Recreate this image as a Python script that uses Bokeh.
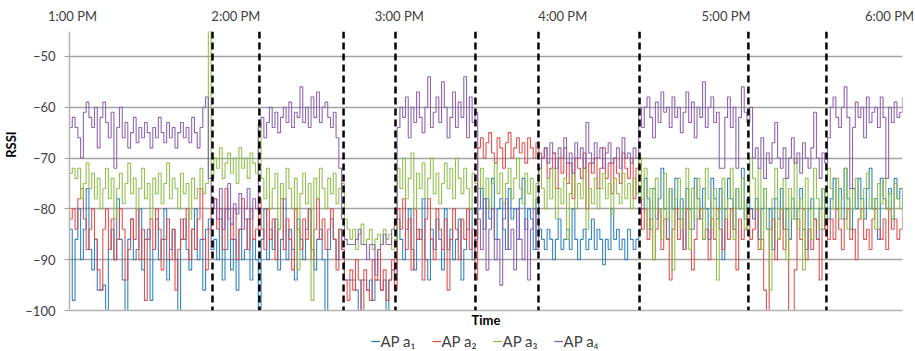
import numpy as np
from bokeh.plotting import figure
from bokeh.layouts import column
from bokeh.models import (FixedTicker, Span, Legend, LegendItem, Range1d, LinearAxis)
from bokeh.embed import file_html
from bokeh.resources import INLINE

# ---------------- data ----------------
# RSSI samples, one per minute starting at 1:00 PM
ap_a1 = [
    # A
    -84, -98, -86, -80, -90, -84, -76, -88, -92, -86,
    -96, -96, -95, -100, -88, -84, -90, -78, -86, -94,
    -100, -86, -82, -90, -88, -80, -92, -86, -84, -98,
    -88, -82, -90, -86, -80, -94, -88, -84, -90, -100,
    -86, -82, -88, -92, -84, -80, -90, -86, -96, -84,
    -82, -88,
    # B
    -86, -90, -82, -94, -88, -80, -92, -86, -96, -84, -90, -88, -82, -94, -86, -90, -100,
    # C
    -86, -80, -90, -84, -88, -82, -92, -86, -78, -90,
    -84, -88, -94, -82, -86, -90, -84, -80, -88, -92,
    -86, -84, -90, -100, -88, -82, -86, -90, -84, -88,
    # D
    -94, -94, -94, -94, -96, -100, -94, -94, -96, -94, -98, -94, -94, -96, -94, -100, -94, -92, -94,
    # E
    -82, -86, -90, -84, -80, -88, -92, -84, -86, -78,
    -90, -94, -84, -88, -82, -86, -92, -80, -88, -84,
    -90, -86, -82, -94, -88, -84, -80, -90, -86,
    # F
    -80, -76, -84, -78, -82, -74, -86, -80, -78, -84,
    -88, -76, -82, -80, -86, -78, -74, -84, -80, -82,
    -88, -78, -84,
    # G
    -86, -88, -84, -86, -90, -86, -82, -88, -86, -84,
    -88, -80, -86, -90, -86, -84, -88, -86, -82, -88,
    -84, -86, -91, -86, -88, -80, -86, -84, -88, -86,
    -90, -84, -86, -88, -86, -84,
    # H
    -80, -74, -78, -84, -76, -82, -78, -72, -80, -86,
    -76, -80, -74, -82, -78, -88, -76, -80, -84, -74,
    -78, -82, -76, -80, -86, -74, -78, -82, -76, -90,
    -80, -74, -78, -84, -76, -80, -72, -82, -78, -80,
    # I
    -82, -78, -86, -80, -76, -84, -80, -88, -78, -82,
    -76, -84, -80, -86, -78, -82, -80, -76, -84, -88,
    -80, -78, -82, -86, -80, -76, -84, -82,
    # J
    -78, -74, -80, -76, -82, -72, -78, -84, -76, -80,
    -74, -78, -82, -76, -72, -80, -78, -86, -74, -78,
    -80, -76, -82, -74, -78, -76, -80,
]

ap_a2 = [
    # A
    -82, -80, -84, -78, -76, -82, -88, -84, -80, -86,
    -92, -96, -84, -80, -88, -82, -90, -86, -80, -84,
    -94, -88, -82, -86, -80, -90, -84, -98, -86, -82,
    -88, -80, -84, -92, -86, -82, -90, -84, -96, -88,
    -82, -86, -80, -90, -84, -88, -82, -76, -86, -92,
    -84, -80,
    # B
    -78, -84, -80, -88, -76, -82, -86, -80, -90, -84, -78, -82, -88, -80, -86, -84, -78,
    # C
    -84, -88, -80, -86, -82, -90, -84, -78, -88, -82,
    -86, -92, -80, -84, -88, -82, -86, -80, -90, -84,
    -78, -86, -82, -88, -84, -80, -86, -92, -84, -88,
    # D
    -94, -98, -92, -96, -90, -94, -100, -92, -96, -98, -90, -94, -88, -96, -92, -98, -94, -90, -96,
    # E
    -80, -84, -78, -88, -82, -92, -80, -86, -84, -94,
    -82, -78, -86, -90, -80, -84, -88, -82, -96, -86,
    -80, -84, -90, -82, -86, -80, -88, -84, -94,
    # F
    -68, -66, -70, -67, -65, -69, -71, -66, -68, -72,
    -67, -65, -70, -68, -66, -69, -67, -71, -66, -68,
    -70, -67, -69,
    # G
    -70, -68, -74, -72, -69, -76, -70, -73, -68, -75,
    -71, -78, -70, -72, -74, -69, -80, -71, -73, -70,
    -76, -72, -68, -74, -71, -77, -70, -73, -75, -69,
    -72, -74, -70, -78, -72, -70,
    # H
    -84, -80, -86, -82, -90, -84, -80, -88, -82, -86,
    -94, -84, -80, -86, -82, -88, -80, -84, -92, -86,
    -82, -80, -86, -84, -90, -82, -86, -80, -84, -88,
    -82, -86, -80, -84, -92, -82, -86, -84, -80, -86,
    # I
    -84, -80, -88, -86, -96, -100, -84, -82, -90, -86,
    -80, -88, -84, -100, -100, -92, -82, -86, -80, -90,
    -84, -88, -82, -86, -94, -84, -80, -86,
    # J
    -82, -86, -80, -84, -88, -82, -80, -86, -84, -90,
    -82, -80, -86, -84, -88, -82, -80, -84, -86, -82,
    -88, -80, -84, -82, -86, -84, -80,
]

ap_a3 = [
    # A
    -73, -72, -74, -72, -78, -75, -71, -76, -73, -78,
    -74, -80, -76, -72, -78, -74, -82, -76, -73, -79,
    -75, -71, -77, -74, -80, -76, -72, -78, -75, -82,
    -74, -77, -73, -79, -75, -71, -78, -74, -76, -80,
    -73, -77, -75, -82, -74, -78, -76, -72, -77, -75,
    -45, -74,
    # B
    -70, -72, -68, -74, -71, -69, -73, -70, -75, -68, -72, -70, -74, -69, -71, -73, -63,
    # C
    -74, -78, -72, -80, -76, -73, -84, -75, -78, -72,
    -76, -80, -74, -92, -77, -73, -79, -75, -98, -74,
    -78, -72, -76, -80, -74, -77, -73, -79, -76, -75,
    # D
    -82, -84, -86, -84, -88, -85, -83, -87, -86, -84, -88, -86, -85, -87, -84, -86, -85, -88, -86,
    # E
    -72, -76, -70, -78, -74, -69, -80, -73, -76, -71,
    -78, -74, -70, -77, -73, -79, -75, -71, -76, -72,
    -78, -70, -74, -77, -72, -76, -80, -73, -75,
    # F
    -76, -72, -78, -74, -80, -75, -71, -77, -73, -79,
    -75, -72, -78, -74, -70, -76, -79, -73, -77, -74,
    -80, -75, -72,
    # G
    -76, -80, -74, -78, -72, -82, -76, -79, -74, -86,
    -77, -73, -80, -75, -78, -72, -84, -76, -79, -74,
    -80, -76, -73, -78, -75, -81, -74, -77, -79, -73,
    -78, -75, -80, -74, -77, -70,
    # H
    -78, -72, -84, -76, -90, -74, -80, -86, -73, -82,
    -76, -92, -78, -74, -84, -80, -72, -88, -76, -82,
    -74, -80, -86, -72, -78, -84, -76, -94, -80, -74,
    -82, -78, -72, -86, -76, -80, -74, -84, -78, -70,
    # I
    -74, -80, -72, -88, -76, -84, -96, -78, -72, -86,
    -80, -74, -90, -76, -82, -70, -84, -78, -92, -74,
    -80, -86, -72, -78, -84, -76, -82, -72,
    # J
    -76, -80, -74, -82, -78, -72, -84, -76, -80, -74,
    -78, -82, -76, -73, -80, -78, -84, -75, -79, -74,
    -80, -77, -82, -75, -78, -80, -76,
]

ap_a4 = [
    # A
    -64, -62, -64, -66, -70, -61, -59, -62, -64, -60,
    -68, -62, -59, -63, -66, -61, -72, -64, -60, -66,
    -63, -68, -65, -62, -67, -64, -66, -63, -65, -68,
    -64, -66, -62, -65, -67, -63, -66, -64, -68, -65,
    -63, -66, -64, -67, -62, -65, -68, -64, -60, -58,
    -74, -80,
    # B
    -78, -82, -76, -84, -80, -75, -83, -79, -81, -77, -84, -80, -76, -82, -78, -80, -64,
    # C
    -62, -66, -63, -60, -64, -61, -65, -62, -60, -63,
    -59, -64, -61, -62, -56, -63, -60, -64, -58, -62,
    -57, -63, -60, -59, -62, -64, -61, -66, -72, -82,
    # D
    -86, -87, -87, -87, -86, -84, -87, -87, -90, -87, -87, -93, -88, -87, -85, -87, -87, -84, -82,
    # E
    -64, -60, -62, -58, -66, -60, -63, -57, -62, -65,
    -60, -54, -64, -61, -58, -63, -55, -60, -66, -62,
    -57, -64, -59, -62, -54, -66, -58, -63, -61,
    # F
    -82, -88, -78, -92, -84, -80, -90, -86, -95, -82,
    -78, -88, -84, -92, -80, -86, -90, -82, -94, -84,
    -80, -88, -72,
    # G
    -70, -68, -71, -67, -69, -72, -68, -70, -66, -71,
    -69, -73, -67, -70, -68, -72, -63, -69, -71, -67,
    -70, -68, -72, -69, -67, -71, -70, -68, -72, -66,
    -70, -69, -71, -68, -70, -60,
    # H
    -64, -60, -58, -62, -66, -59, -63, -57, -61, -60,
    -64, -58, -62, -60, -65, -61, -57, -63, -59, -66,
    -60, -62, -55, -64, -60, -58, -63, -61, -72, -72,
    -62, -58, -64, -60, -72, -62, -56, -61, -63, -60,
    # I
    -70, -68, -72, -66, -74, -69, -71, -67, -63, -70,
    -72, -68, -74, -70, -66, -71, -69, -73, -67, -70,
    -72, -68, -61, -70, -74, -69, -71, -66,
    # J
    -60, -58, -62, -64, -60, -56, -62, -76, -64, -59,
    -62, -60, -66, -58, -63, -61, -60, -64, -58, -62,
    -74, -60, -63, -59, -62, -61, -58,
]

series_names = ["AP a\u2081", "AP a\u2082", "AP a\u2083", "AP a\u2084"]
series_colors = ["#2a7dc2", "#e04a4a", "#8dbf48", "#8a5fae"]

# boundaries of the measurement phases (minutes after 1:00 PM)
events_min = [51.5, 68.4, 98.7, 117.4, 146.2, 168.9, 205.3, 244.5, 272.6]

hour_ticks = [0, 60, 120, 180, 240, 300]
hour_labels = ["1:00 PM", "2:00 PM", "3:00 PM", "4:00 PM", "5:00 PM", "6:00 PM"]
rssi_ticks = [-100, -90, -80, -70, -60, -50]

FONT = "Lato"
TXT = "#404040"
FS = "\u2007"  # figure space, nudges the y title upward

# ---------------- main chart ----------------
p = figure(frame_width=833, frame_height=279, output_backend="svg", toolbar_location=None,
           x_range=Range1d(0, 300), y_range=Range1d(-100, -45.1),
           min_border_left=67, min_border_right=15, min_border_top=31,
           min_border_bottom=21)
p.outline_line_color = None
p.background_fill_color = "white"
p.border_fill_color = "white"
# caption axis for the hours (category-style axis, inset at both ends)
p.extra_x_ranges = {"hours": Range1d(-1.10, 304.77)}

p.xgrid.visible = False
p.ygrid.ticker = FixedTicker(ticks=rssi_ticks)
p.ygrid.grid_line_color = "#a3a3a3"
p.ygrid.grid_line_width = 1.3

yax = p.yaxis[0]
yax.ticker = FixedTicker(ticks=rssi_ticks)
yax.axis_line_color = "#b3b3b3"
yax.axis_line_width = 1.5
yax.major_tick_line_color = "#a3a3a3"
yax.major_tick_out = 5
yax.major_tick_in = 0
yax.minor_tick_line_color = None
yax.major_label_standoff = 9
yax.major_label_text_font = FONT
yax.major_label_text_font_size = "13px"
yax.major_label_text_color = TXT
yax.axis_label = FS * 7 + "RSSI"
yax.axis_label_standoff = 3
yax.axis_label_text_font = FONT
yax.axis_label_text_font_size = "13px"
yax.axis_label_text_font_style = "bold"
yax.axis_label_text_color = "#000000"

xax = p.xaxis[0]
xax.ticker = FixedTicker(ticks=[])
xax.axis_line_color = "#b3b3b3"
xax.axis_line_width = 1.5
xax.major_tick_line_color = None
xax.major_tick_out = 0
xax.minor_tick_line_color = None
xax.major_label_standoff = 0
xax.axis_label = "Time"
xax.axis_label_standoff = 1
xax.axis_label_text_font = FONT
xax.axis_label_text_font_size = "13px"
xax.axis_label_text_font_style = "bold"
xax.axis_label_text_color = "#000000"

# top time axis
top = LinearAxis(x_range_name="hours", ticker=FixedTicker(ticks=hour_ticks),
                 major_label_overrides=dict(zip(hour_ticks, hour_labels)))
top.axis_line_color = None
top.major_tick_line_color = None
top.minor_tick_line_color = None
top.major_tick_out = 0
top.major_label_standoff = 8
top.major_label_text_font = FONT
top.major_label_text_font_size = "13px"
top.major_label_text_color = TXT
p.add_layout(top, "above")

# series
series = [ap_a1, ap_a2, ap_a3, ap_a4]
for vals, col in zip(series, series_colors):
    x = np.arange(len(vals))
    p.step(x, vals, mode="after", line_color=col, line_width=1.1, line_alpha=0.95)

# phase boundaries
for m in events_min:
    p.add_layout(Span(location=m, dimension="height", line_color="black",
                      line_width=2.5, line_dash="7 4"))

# ---------------- legend strip ----------------
lg = figure(width=915, height=20, output_backend="svg", toolbar_location=None,
            x_range=Range1d(0, 1), y_range=Range1d(0, 1),
            x_axis_type=None, y_axis_type=None,
            min_border_left=52, min_border_right=0, min_border_top=0, min_border_bottom=0)
lg.outline_line_color = None
lg.grid.visible = False
items = []
for name, col in zip(series_names, series_colors):
    # proxy line kept outside the visible range; only its legend swatch shows
    r = lg.line(x=[5, 6], y=[5, 6], line_color=col, line_width=1.3)
    items.append(LegendItem(label=name, renderers=[r]))
legend = Legend(items=items, orientation="horizontal", location="center")
legend.border_line_color = None
legend.background_fill_alpha = 0
legend.label_text_font = FONT
legend.label_text_font_size = "15px"
legend.label_text_color = TXT
legend.glyph_width = 9
legend.glyph_height = 12
legend.label_standoff = 1
legend.spacing = 16
legend.padding = 0
legend.margin = 0
legend.label_height = 14
lg.add_layout(legend)

layout = column(p, lg, spacing=0)
open("out.html", "w").write(file_html(layout, INLINE))
